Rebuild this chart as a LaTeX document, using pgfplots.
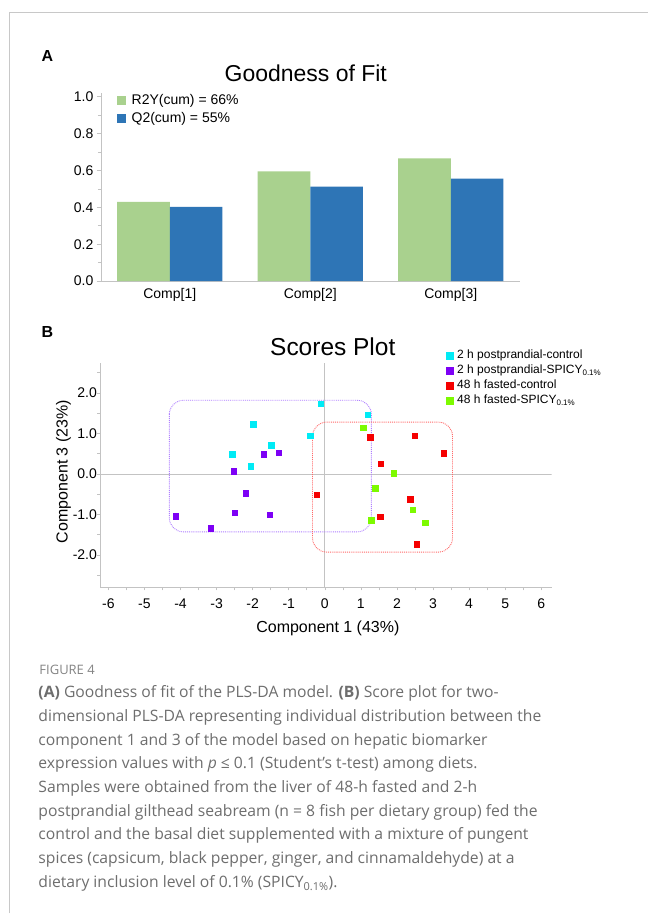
\documentclass[border=0pt]{standalone}
\usepackage{pgfplots}
\pgfplotsset{compat=1.18}
\usepackage{fontspec}
\setmainfont{Liberation Sans}
\newfontfamily\capfont{Open Sans}
\definecolor{barG}{RGB}{169,209,142}
\definecolor{barB}{RGB}{46,117,182}
\definecolor{mCyan}{RGB}{0,235,245}
\definecolor{mPurple}{RGB}{125,0,245}
\definecolor{mRed}{RGB}{245,0,0}
\definecolor{mGreen}{RGB}{125,250,0}
\definecolor{boxP}{RGB}{175,125,255}
\definecolor{boxR}{RGB}{255,105,105}
\definecolor{axgray}{RGB}{195,195,195}
\definecolor{capgray}{RGB}{110,110,110}
\definecolor{framegray}{RGB}{200,200,200}
\begin{document}
\begin{tikzpicture}[x=1pt,y=1pt]
\fill[white] (0,0) rectangle (648,-914);
\draw[framegray, line width=1.3pt] (9.5,-914) -- (9.5,-12.3) -- (648,-12.3);

% ---------- Panel A ----------
\node[font=\bfseries\fontsize{16}{18}\selectfont] at (47.5,-56) {A};
\node[font=\fontsize{23}{26}\selectfont] at (306,-73.3) {Goodness of Fit};
\begin{axis}[
  at={(101pt,-281.3pt)}, anchor=south west,
  scale only axis, width=419pt, height=188.6pt,
  xmin=-0.49, xmax=2.49, ymin=0, ymax=1.022,
  ybar=0pt, bar width=52.7pt,
  axis lines*=left,
  axis line style={axgray, line width=0.8pt},
  xtick={0,1,2}, xticklabels={Comp[1],Comp[2],Comp[3]},
  x tick style={draw=none},
  ytick={0,0.2,0.4,0.6,0.8,1},
  minor ytick={0.1,0.3,0.5,0.7,0.9},
  y tick style={axgray, line width=0.6pt},
  tick align=outside, major tick length=4pt, minor tick length=3pt,
  yticklabel style={/pgf/number format/.cd, fixed, fixed zerofill, precision=1},
  /pgf/number format/assume math mode=true,
  tick label style={font=\fontsize{14}{16}\selectfont, text=black},
  legend style={at={(0.03,1.016)}, anchor=north west, draw=none, fill=none,
    font=\fontsize{14}{16}\selectfont, row sep=0pt, column sep=4pt,
    nodes={inner sep=2pt, text height=10.5pt, text depth=3.5pt}},
  legend cell align=left,
  legend image code/.code={\fill[#1] (0pt,-4.5pt) rectangle (9pt,4.5pt);},
]
\addplot[fill=barG, draw=none] coordinates {(0,0.43) (1,0.595) (2,0.665)};
\addlegendentry{R2Y(cum) = 66\%}
\addplot[fill=barB, draw=none] coordinates {(0,0.403) (1,0.512) (2,0.556)};
\addlegendentry{Q2(cum) = 55\%}
\end{axis}

% ---------- Panel B ----------
\node[font=\bfseries\fontsize{16}{18}\selectfont] at (47.5,-332) {B};
\node[font=\fontsize{24.5}{27}\selectfont] at (333,-347) {Scores Plot};
\begin{axis}[
  at={(100.5pt,-587.7pt)}, anchor=south west,
  scale only axis, width=451.6pt, height=224.8pt,
  xmin=-6.22, xmax=6.29, ymin=-2.8, ymax=2.75,
  axis lines*=left, axis line style={axgray, line width=0.8pt},
  xtick={-6,-5,-4,-3,-2,-1,0,1,2,3,4,5,6},
  minor xtick={-5.5,-4.5,-3.5,-2.5,-1.5,-0.5,0.5,1.5,2.5,3.5,4.5,5.5},
  ytick={-2,-1,0,1,2}, minor ytick={-2.5,-1.5,-0.5,0.5,1.5,2.5},
  tick align=outside, major tick length=3pt, minor tick length=3pt,
  tick style={axgray, line width=0.6pt},
  /pgf/number format/assume math mode=true,
  tick label style={font=\fontsize{14}{16}\selectfont, text=black},
  xticklabel style={/tikz/yshift=-5pt, /pgf/number format/.cd, fixed, precision=0},
  yticklabel style={/tikz/xshift=3pt, /pgf/number format/.cd, fixed, fixed zerofill, precision=1},
  xlabel={Component 1 (43\%)}, ylabel={Component 3 (23\%)},
  label style={font=\fontsize{16}{18}\selectfont},
  xlabel style={at={(axis description cs:0.504,-0.184)}, anchor=center},
  ylabel style={at={(axis description cs:-0.082,0.515)}, anchor=center},
  legend style={at={(axis description cs:0.759,1.075)}, anchor=north west, draw=none, fill=none,
    font=\fontsize{12}{14}\selectfont, row sep=0pt, column sep=3pt,
    nodes={inner sep=1.5pt, text height=9pt, text depth=3pt}},
  legend cell align=left,
  legend image code/.code={\draw[#1, mark size=3.3pt] plot coordinates {(3.5pt,0pt)};},
]
\draw[axgray, line width=0.8pt] (axis cs:0,-2.8) -- (axis cs:0,2.75);
\draw[axgray, line width=0.8pt] (axis cs:-6.22,0) -- (axis cs:6.29,0);
\draw[boxP, densely dotted, line width=0.9pt, rounded corners=14pt] (axis cs:-4.31,1.82) rectangle (axis cs:1.29,-1.43);
\draw[boxR, densely dotted, line width=0.9pt, rounded corners=14pt] (axis cs:-0.34,1.28) rectangle (axis cs:3.54,-1.93);
\addplot[only marks, mark=square*, mark size=2.7pt, color=mCyan] coordinates {
 (-0.12,1.73) (1.19,1.47) (-1.98,1.23) (-0.40,0.95) (-1.49,0.71) (-2.57,0.49) (-2.06,0.19)};
\addlegendentry{2 h postprandial-control}
\addplot[only marks, mark=square*, mark size=2.7pt, color=mPurple] coordinates {
 (-1.70,0.49) (-1.28,0.53) (-2.52,0.07) (-2.20,-0.48) (-2.50,-0.95) (-1.52,-1.00) (-4.14,-1.04) (-3.16,-1.34)};
\addlegendentry{2 h postprandial-SPICY\textsubscript{0.1\%}}
\addplot[only marks, mark=square*, mark size=2.7pt, color=mRed] coordinates {
 (1.26,0.91) (2.49,0.95) (3.29,0.51) (1.55,0.25) (-0.22,-0.51) (2.37,-0.62) (1.53,-1.06) (2.55,-1.74)};
\addlegendentry{48 h fasted-control}
\addplot[only marks, mark=square*, mark size=2.7pt, color=mGreen] coordinates {
 (1.06,1.15) (1.91,0.02) (1.40,-0.35) (2.44,-0.88) (1.29,-1.14) (2.78,-1.20)};
\addlegendentry{48 h fasted-SPICY\textsubscript{0.1\%}}
\end{axis}

% ---------- Caption ----------
\node[anchor=base west, inner sep=0, font=\capfont\fontsize{13}{15}\selectfont, text=capgray!85] at (39.3,-675) {FIGURE 4};
\begin{scope}[every node/.style={anchor=base west, inner sep=0, font=\capfont\fontsize{15.7}{18}\selectfont, text=capgray}]
\node at (38.3,-698.3) {\textbf{(A)} Goodness of fit of the PLS-DA model. \textbf{(B)} Score plot for two-};
\node at (38.3,-722.0) {dimensional PLS-DA representing individual distribution between the};
\node at (38.3,-745.7) {component 1 and 3 of the model based on hepatic biomarker};
\node at (38.3,-769.4) {expression values with \textit{p} ≤ 0.1 (Student’s t-test) among diets.};
\node at (38.3,-793.1) {Samples were obtained from the liver of 48-h fasted and 2-h};
\node at (38.3,-816.8) {postprandial gilthead seabream (n = 8 fish per dietary group) fed the};
\node at (38.3,-840.5) {control and the basal diet supplemented with a mixture of pungent};
\node at (38.3,-864.2) {spices (capsicum, black pepper, ginger, and cinnamaldehyde) at a};
\node at (38.3,-887.9) {dietary inclusion level of 0.1\% (SPICY\textsubscript{0.1\%}).};
\end{scope}
\end{tikzpicture}
\end{document}
